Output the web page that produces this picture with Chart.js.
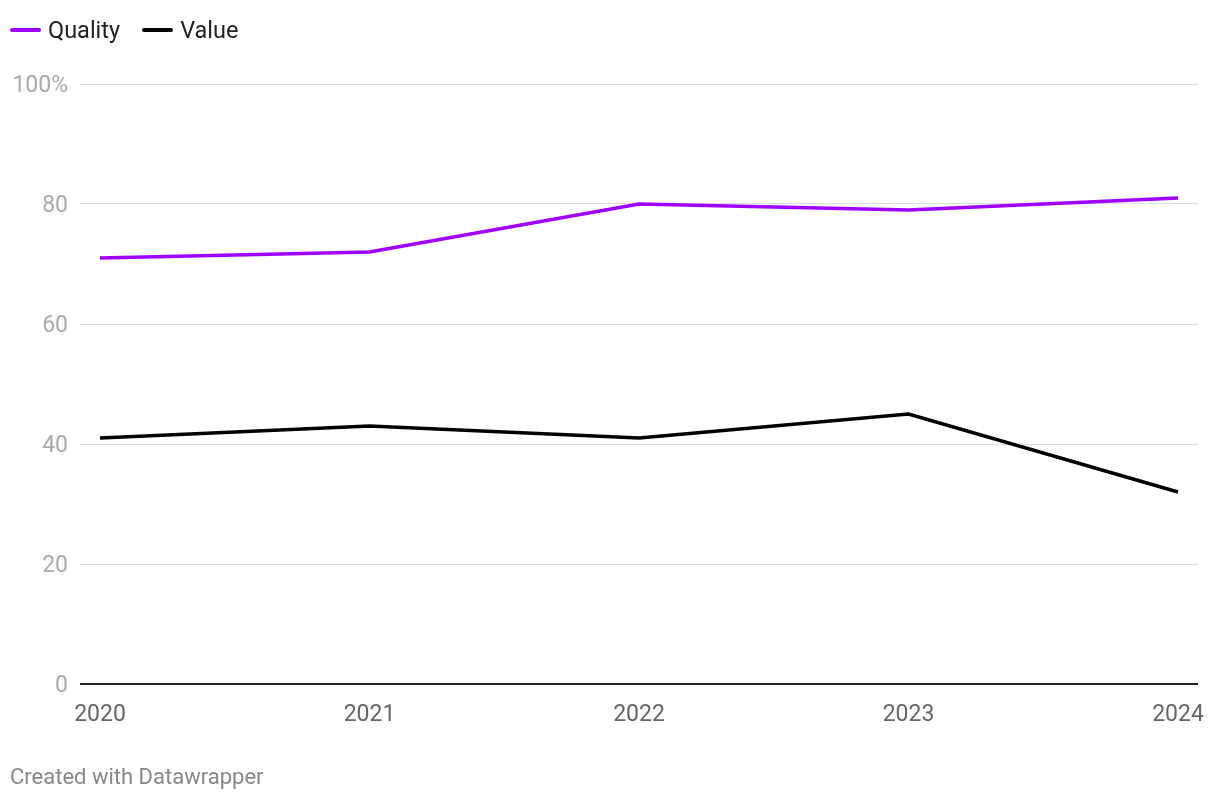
<!DOCTYPE html>
<html>
<head>
<meta charset="utf-8">
<script src="https://cdn.jsdelivr.net/npm/chart.js@4"></script>
<style>
  html, body { margin: 0; padding: 0; background: #fff; }
  #wrap { position: relative; width: 1220px; height: 800px; font-family: Roboto, sans-serif; }
  #legend { position: absolute; left: 10px; top: 16px; height: 28px; display: flex; align-items: center; font-size: 23.5px; color: #222; }
  .item { display: flex; align-items: center; margin-right: 22px; }
  .sw { width: 31px; height: 4px; border-radius: 2px; margin-right: 7px; }
  #footer { position: absolute; left: 10px; top: 764px; font-size: 22px; color: #888; }
  canvas { position: absolute; left: 0; top: 0; }
</style>
</head>
<body>
<div id="wrap">
  <canvas id="c" width="1220" height="800"></canvas>
  <div id="legend"></div>
  <div id="footer">Created with Datawrapper</div>
</div>
<script>
const years = [2020, 2021, 2022, 2023, 2024];
const quality = [71, 72, 80, 79, 81];
const value = [41, 43, 41, 45, 32];
const yTicks = [0, 20, 40, 60, 80, 100];
const seriesNames = ['Quality', 'Value'];
const seriesColors = ['#a000ff', '#000000'];

const legend = document.getElementById('legend');
seriesNames.forEach((n, i) => {
  const it = document.createElement('div');
  it.className = 'item';
  const sw = document.createElement('div');
  sw.className = 'sw';
  sw.style.background = seriesColors[i];
  const t = document.createElement('span');
  t.textContent = n;
  it.appendChild(sw); it.appendChild(t);
  legend.appendChild(it);
});

const pad = 20 / 269.5;
new Chart(document.getElementById('c'), {
  type: 'line',
  data: {
    datasets: [
      { label: seriesNames[0], data: years.map((y, i) => ({ x: y, y: quality[i] })), borderColor: seriesColors[0], borderWidth: 3.5, pointRadius: 0, tension: 0 },
      { label: seriesNames[1], data: years.map((y, i) => ({ x: y, y: value[i] })), borderColor: seriesColors[1], borderWidth: 3.5, pointRadius: 0, tension: 0 }
    ]
  },
  options: {
    responsive: false,
    animation: false,
    layout: { padding: { top: 84, right: 22, bottom: 0, left: 0 } },
    plugins: { legend: { display: false }, tooltip: { enabled: false } },
    scales: {
      x: {
        type: 'linear',
        min: years[0] - pad,
        max: years[years.length - 1] + pad,
        afterBuildTicks: s => { s.ticks = years.map(v => ({ value: v })); },
        afterFit: s => { s.height = 116; },
        grid: { display: false },
        border: { display: false },
        ticks: { font: { family: 'Roboto', size: 23 }, color: '#666', padding: 9, maxRotation: 0, autoSkip: false, callback: v => String(v) }
      },
      y: {
        min: 0, max: 100,
        afterBuildTicks: s => { s.ticks = yTicks.map(v => ({ value: v })); },
        afterFit: s => { s.width = 80; },
        grid: {
          drawTicks: false,
          color: c => c.tick && c.tick.value === 0 ? '#222' : '#dedede',
          lineWidth: c => c.tick && c.tick.value === 0 ? 2 : 1
        },
        border: { display: false },
        ticks: { font: { family: 'Roboto', size: 23 }, color: '#aaa', padding: 12, labelOffset: 2, callback: v => v === 100 ? '100%' : String(v) }
      }
    }
  }
});
</script>
</body>
</html>
